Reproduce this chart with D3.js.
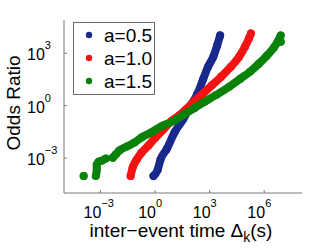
<!DOCTYPE html>
<html>
<head>
<meta charset="utf-8">
<script src="https://cdn.jsdelivr.net/npm/d3@7"></script>
<style>
  body { margin: 0; background: #fff; }
  svg { display: block; font-family: "Liberation Sans", Arial, sans-serif; }
</style>
</head>
<body>
<svg id="chart" width="332" height="250"></svg>
<script>
// series: [inter-event time (s), odds ratio]
const seriesNames = ["a=0.5", "a=1.0", "a=1.5"];
const seriesColors = ["#18288c", "#f51212", "#0a820a"];

const blueX = [0.83, 1.4, 2.0, 4.3, 12, 36, 87, 210, 450, 830, 1600, 2600, 3800];
const blueY = [9.5e-5, 2.1e-4, 8.1e-4, 3.1e-3, 0.030, 0.17, 0.93, 4.6, 34, 170, 630, 2800, 10500];

const redX = [0.046, 0.059, 0.098, 0.18, 0.44, 1.07, 2.9, 7.9, 22, 52, 145, 400, 1380, 4300, 15000, 42000, 89000, 145000, 186000];
const redY = [9.5e-5, 2.8e-4, 8.1e-4, 2.0e-3, 5.2e-3, 0.015, 0.044, 0.13, 0.28, 0.63, 1.8, 4.6, 15, 45, 170, 630, 2400, 6900, 13500];

// green has a few separate clumps at the low end (null = gap)
const greenX = [1.2e-4, null, 5.6e-4, 6.3e-4, 6.3e-4, 8.1e-4, 1.2e-3, 2.0e-3, null,
  4.8e-3, 6.9e-3, 0.011, 0.028, 0.076, 0.18, 0.65, 2.3, 12, 41, 145, 500, 2300, 12000,
  47000, 166000, 510000, 1.4e6, 3.4e6, 5.6e6, 8.1e6, null, 8.1e6];
const greenY = [9.5e-5, null, 9.5e-5, 2.1e-4, 4.2e-4, 6.2e-4, 7.1e-4, 9.3e-4, null,
  1.05e-3, 1.6e-3, 2.7e-3, 4.6e-3, 7.8e-3, 0.015, 0.030, 0.066, 0.14, 0.32, 0.72, 1.6, 4.1, 12,
  34, 87, 250, 720, 2100, 4700, 10500, null, 4500];

const xTickExps = [-3, 0, 3, 6];
const yTickExps = [-3, 0, 3];

const svg = d3.select("#chart");

const x = d3.scaleLog().domain([1e-5, 1.2e8]).range([64, 302]);
const y = d3.scaleLog().domain([1e-5, 8e4]).range([193, 20]);

const series = [
  {name: seriesNames[0], color: seriesColors[0], pts: blueX.map((v, i) => [v, blueY[i]])},
  {name: seriesNames[1], color: seriesColors[1], pts: redX.map((v, i) => [v, redY[i]])},
  {name: seriesNames[2], color: seriesColors[2], pts: greenX.map((v, i) => [v, greenY[i]])}
];

const line = d3.line()
  .defined(d => d[0] != null)
  .x(d => x(d[0]))
  .y(d => y(d[1]))
  .curve(d3.curveMonotoneX);

const plot = svg.append("g");
series.forEach(s => {
  plot.append("path")
    .attr("d", line(s.pts))
    .attr("fill", "none")
    .attr("stroke", s.color)
    .attr("stroke-width", 8)
    .attr("stroke-linecap", "round")
    .attr("stroke-linejoin", "round");
  plot.selectAll(null)
    .data(s.pts.filter(d => d[0] != null))
    .enter().append("circle")
    .attr("cx", d => x(d[0]))
    .attr("cy", d => y(d[1]))
    .attr("r", 4)
    .attr("fill", s.color);
});

// axes (left + bottom only, ticks pointing inward)
const axisColor = "#7a7a7a";
svg.append("line")
  .attr("x1", x.range()[0]).attr("x2", x.range()[0])
  .attr("y1", y.range()[1]).attr("y2", y.range()[0])
  .attr("stroke", axisColor).attr("stroke-width", 1);
svg.append("line")
  .attr("x1", x.range()[0]).attr("x2", x.range()[1])
  .attr("y1", y.range()[0]).attr("y2", y.range()[0])
  .attr("stroke", axisColor).attr("stroke-width", 1);

function powLabel(sel, e) {
  sel.append("tspan").text("10");
  sel.append("tspan")
    .attr("font-size", 11)
    .attr("dy", -11)
    .text(e < 0 ? "\u2212" + (-e) : e);
}

xTickExps.forEach(e => {
  const px = x(Math.pow(10, e));
  svg.append("line")
    .attr("x1", px).attr("x2", px)
    .attr("y1", y.range()[0]).attr("y2", y.range()[0] - 3)
    .attr("stroke", axisColor);
  const t = svg.append("text")
    .attr("y", 218)
    .attr("font-size", 16)
    .attr("fill", "#000")
    .call(powLabel, e);
  const w = t.node().getSubStringLength(0, 2);
  t.attr("x", px + 1 - w);
});

yTickExps.forEach(e => {
  const py = y(Math.pow(10, e));
  svg.append("line")
    .attr("x1", x.range()[0]).attr("x2", x.range()[0] + 3)
    .attr("y1", py).attr("y2", py)
    .attr("stroke", axisColor);
  svg.append("text")
    .attr("x", 27)
    .attr("y", py + 7)
    .attr("font-size", 16)
    .attr("fill", "#000")
    .call(powLabel, e);
});

// axis labels
const xl = svg.append("text")
  .attr("x", 181)
  .attr("y", 237)
  .attr("text-anchor", "middle")
  .attr("font-size", 19)
  .attr("fill", "#000");
xl.append("tspan").text("inter\u2212event time \u0394");
xl.append("tspan").attr("font-size", 14).attr("dy", 5).text("k");
xl.append("tspan").attr("dy", -5).text("(s)");

svg.append("text")
  .attr("transform", "translate(20,103) rotate(-90)")
  .attr("text-anchor", "middle")
  .attr("font-size", 19)
  .attr("fill", "#000")
  .text("Odds Ratio");

// legend
const legend = svg.append("g");
legend.append("rect")
  .attr("x", 73.5).attr("y", 22.5)
  .attr("width", 81).attr("height", 72)
  .attr("fill", "#fff")
  .attr("stroke", "#6e6e6e");
series.forEach((s, i) => {
  const ly = 35 + i * 23;
  legend.append("circle")
    .attr("cx", 89).attr("cy", ly).attr("r", 3.2)
    .attr("fill", s.color);
  legend.append("text")
    .attr("x", 104).attr("y", ly + 7)
    .attr("font-size", 19)
    .attr("fill", "#000")
    .text(s.name);
});
</script>
</body>
</html>
